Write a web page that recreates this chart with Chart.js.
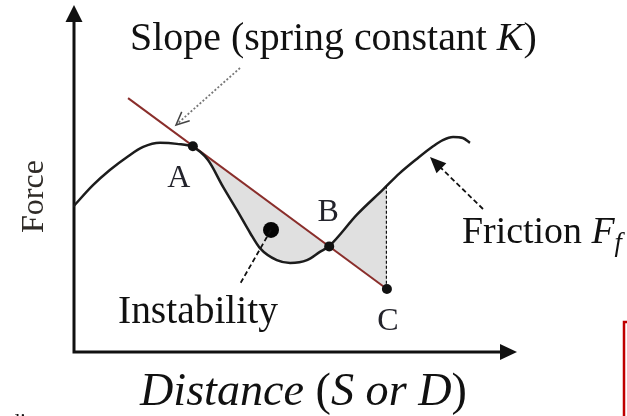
<!DOCTYPE html>
<html>
<head>
<meta charset="utf-8">
<script src="https://cdn.jsdelivr.net/npm/chart.js@4.4.1/dist/chart.umd.min.js"></script>
<style>
  html, body { margin: 0; padding: 0; background: #fff; }
  #wrap { width: 627px; height: 416px; }
</style>
</head>
<body>
<div id="wrap"><canvas id="frictionChart" width="627" height="416"></canvas></div>
<script>
// friction curve (distance, force)
const frictionX = [0, 0.45, 0.83, 1.22, 1.58, 1.96, 2.34, 2.70, 3.04, 3.38, 3.69, 3.99, 4.21, 4.59, 4.89, 5.27, 5.56, 5.77, 6.40, 6.98, 7.36, 7.75, 8.11, 8.33, 8.56, 8.78, 8.94];
const frictionY = [4.22, 4.85, 5.29, 5.67, 5.96, 6.08, 6.05, 5.96, 5.58, 4.80, 4.13, 3.46, 3.02, 2.67, 2.59, 2.67, 2.91, 3.08, 4.00, 4.72, 5.20, 5.62, 5.98, 6.16, 6.25, 6.22, 6.08];

// spring line (slope K), through A and B, ending at C
const slopeX = [1.24, 7.07];
const slopeY = [7.38, 1.83];

const pointLabels = ['A', 'B', 'C'];
const pointX = [2.70, 5.77, 7.07];
const pointY = [5.98, 3.07, 1.83];

// friction value above C, where the dashed line meets the curve
const cTopY = 4.83;

const instabilityX = [4.46];
const instabilityY = [3.55];

const xRange = [0, 10];
const yRange = [0, 10];

const curveData = frictionX.map((x, i) => ({ x, y: frictionY[i] }));
const shadeData = curveData
  .filter(p => p.x >= pointX[0] && p.x <= pointX[2])
  .concat([{ x: pointX[2], y: cTopY }]);

const serif = '"Liberation Serif", "Times New Roman", serif';

function drawRich(ctx, parts, x, y, width, size) {
  const font = (p, s) => `${p.italic ? 'italic ' : ''}${s * (p.scale || 1)}px ${serif}`;
  let w = 0;
  parts.forEach(p => { ctx.font = font(p, size); w += ctx.measureText(p.text).width; });
  const s = size * width / w;
  let cx = x;
  parts.forEach(p => {
    ctx.font = font(p, s);
    ctx.fillText(p.text, cx, y + (p.dy || 0) * s);
    cx += ctx.measureText(p.text).width;
  });
}

function arrowHead(ctx, tipX, tipY, fromX, fromY, len, half, filled) {
  const a = Math.atan2(tipY - fromY, tipX - fromX);
  const bx = tipX - len * Math.cos(a);
  const by = tipY - len * Math.sin(a);
  const px = -Math.sin(a) * half;
  const py = Math.cos(a) * half;
  ctx.beginPath();
  ctx.moveTo(bx + px, by + py);
  ctx.lineTo(tipX, tipY);
  ctx.lineTo(bx - px, by - py);
  if (filled) { ctx.closePath(); ctx.fill(); } else { ctx.stroke(); }
}

const diagramPlugin = {
  id: 'diagram',
  beforeDatasetsDraw(chart) {
    const { ctx, chartArea: a } = chart;
    ctx.save();
    // axes with arrow heads
    ctx.strokeStyle = '#111';
    ctx.fillStyle = '#111';
    ctx.lineWidth = 3;
    ctx.beginPath();
    ctx.moveTo(a.left + 1, a.bottom + 1.5);
    ctx.lineTo(a.left + 1, a.top + 8);
    ctx.moveTo(a.left - 0.5, a.bottom);
    ctx.lineTo(a.right - 8, a.bottom);
    ctx.stroke();
    arrowHead(ctx, a.left + 1, a.top - 3, a.left + 1, a.top + 20, 17, 8.5, true);
    arrowHead(ctx, a.right, a.bottom, a.left, a.bottom, 17, 8, true);
    ctx.restore();
  },
  afterDatasetsDraw(chart) {
    const { ctx, scales: { x, y } } = chart;
    const px = v => x.getPixelForValue(v);
    const py = v => y.getPixelForValue(v);
    ctx.save();

    // dashed drop from the curve to C
    ctx.strokeStyle = '#111';
    ctx.lineWidth = 1.2;
    ctx.setLineDash([3, 2]);
    ctx.beginPath();
    ctx.moveTo(px(pointX[2]) - 0.5, py(cTopY));
    ctx.lineTo(px(pointX[2]) - 0.5, py(pointY[2]));
    ctx.stroke();

    // instability pointer
    ctx.lineWidth = 1.8;
    ctx.setLineDash([5, 3]);
    ctx.beginPath();
    ctx.moveTo(px(instabilityX[0]), py(instabilityY[0]));
    ctx.lineTo(240, 284);
    ctx.stroke();

    // friction arrow
    ctx.beginPath();
    ctx.moveTo(483, 209);
    ctx.lineTo(440, 167);
    ctx.stroke();
    ctx.setLineDash([]);
    ctx.fillStyle = '#111';
    arrowHead(ctx, 430, 157, 483, 209, 16, 7, true);

    // slope arrow (dotted, open head)
    ctx.strokeStyle = '#777';
    ctx.lineWidth = 1.8;
    ctx.setLineDash([2, 2]);
    ctx.beginPath();
    ctx.moveTo(240, 68);
    ctx.lineTo(177, 124);
    ctx.stroke();
    ctx.setLineDash([]);
    ctx.strokeStyle = '#444';
    ctx.lineWidth = 1.5;
    arrowHead(ctx, 176, 125, 240, 68, 13, 6, false);

    // point letters
    ctx.fillStyle = '#23232b';
    ctx.font = `32px ${serif}`;
    ctx.textAlign = 'center';
    ctx.textBaseline = 'alphabetic';
    const offs = [[-14, 41], [-1, -25], [1, 41]];
    pointLabels.forEach((t, i) => {
      ctx.fillText(t, px(pointX[i]) + offs[i][0], py(pointY[i]) + offs[i][1]);
    });

    // texts
    ctx.textAlign = 'left';
    ctx.fillStyle = '#111';
    drawRich(ctx, [
      { text: 'Slope (spring constant ' },
      { text: 'K', italic: true },
      { text: ')' }
    ], 130, 50, 407, 38);
    drawRich(ctx, [
      { text: 'Friction ' },
      { text: 'F', italic: true },
      { text: 'f', italic: true, scale: 0.7, dy: 0.22 }
    ], 462, 243, 160, 38);
    drawRich(ctx, [{ text: 'Instability' }], 118, 323, 160, 38);
    drawRich(ctx, [
      { text: 'Distance ', italic: true },
      { text: '(' },
      { text: 'S or D', italic: true },
      { text: ')' }
    ], 140, 405, 327, 38);

    // vertical axis name
    ctx.save();
    ctx.translate(43, 233);
    ctx.rotate(-Math.PI / 2);
    ctx.fillStyle = '#2e2a26';
    drawRich(ctx, [{ text: 'Force' }], 0, 0, 73, 32);
    ctx.restore();

    // cropped bits at the picture edges
    ctx.font = `22px ${serif}`;
    ctx.fillStyle = '#111';
    ctx.fillText('di', 9, 428);
    ctx.strokeStyle = '#c00000';
    ctx.lineWidth = 2.5;
    ctx.beginPath();
    ctx.moveTo(624, 420);
    ctx.lineTo(624, 322);
    ctx.lineTo(630, 322);
    ctx.stroke();

    ctx.restore();
  }
};

const ctx = document.getElementById('frictionChart').getContext('2d');
const frictionChart = new Chart(ctx, {
  type: 'line',
  data: {
    datasets: [
      {
        label: 'Points',
        data: pointX.map((x, i) => ({ x, y: pointY[i] })),
        showLine: false,
        pointRadius: 5,
        pointBackgroundColor: '#111',
        pointBorderWidth: 0
      },
      {
        label: 'Instability',
        data: instabilityX.map((x, i) => ({ x, y: instabilityY[i] })),
        showLine: false,
        pointRadius: 8,
        pointBackgroundColor: '#050505',
        pointBorderWidth: 0
      },
      {
        label: 'Friction',
        data: curveData,
        borderColor: '#1c1c1c',
        borderWidth: 2.5,
        cubicInterpolationMode: 'monotone',
        pointRadius: 0,
        fill: false
      },
      {
        label: 'Slope',
        data: slopeX.map((x, i) => ({ x, y: slopeY[i] })),
        borderColor: '#8a2e2b',
        borderWidth: 2,
        pointRadius: 0,
        fill: false
      },
      {
        label: 'Shade',
        data: shadeData,
        borderWidth: 0,
        borderColor: 'rgba(0,0,0,0)',
        cubicInterpolationMode: 'monotone',
        pointRadius: 0,
        fill: { target: 3, above: '#e0e0e0', below: '#e0e0e0' }
      }
    ]
  },
  options: {
    responsive: false,
    animation: false,
    layout: { padding: { left: 73, right: 110, top: 8, bottom: 64 } },
    scales: {
      x: { type: 'linear', min: xRange[0], max: xRange[1], display: false },
      y: { type: 'linear', min: yRange[0], max: yRange[1], display: false }
    },
    plugins: {
      legend: { display: false },
      tooltip: { enabled: false }
    }
  },
  plugins: [diagramPlugin]
});
</script>
</body>
</html>
